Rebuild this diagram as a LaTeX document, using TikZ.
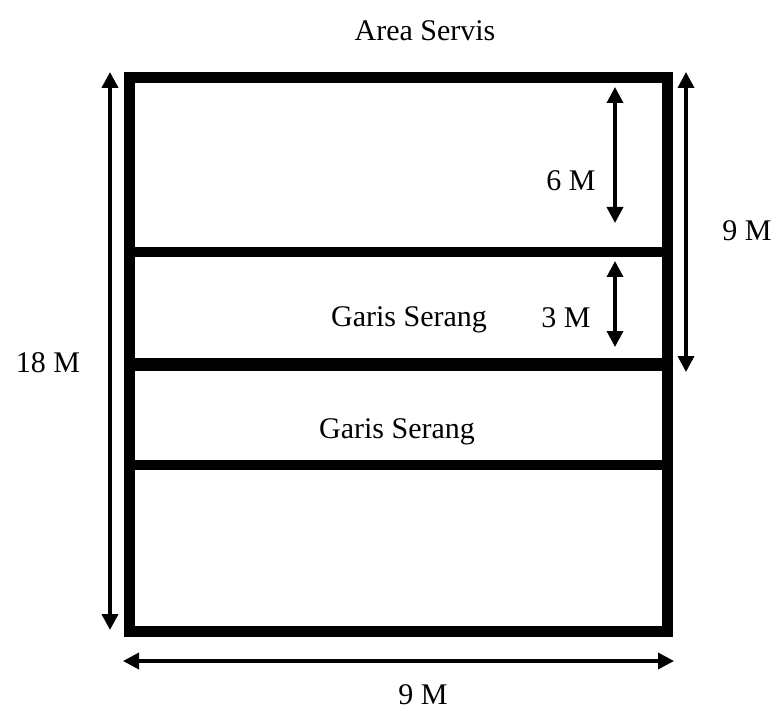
\documentclass[tikz,border=0pt]{standalone}
\usepackage{fontspec}
\setmainfont{Liberation Serif}
\usetikzlibrary{arrows.meta}
\begin{document}
\begin{tikzpicture}[x=1pt,y=-1pt,
  court/.style={line width=11pt,line join=miter},
  courtline/.style={line width=10pt},
  dimarrow/.style={line width=3.5pt,{Triangle[length=16pt,width=16pt]}-{Triangle[length=16pt,width=16pt]}},
  lbl/.style={font=\fontsize{30}{36}\selectfont,inner sep=0pt}]
\useasboundingbox (0,0) rectangle (776,711);
% court corners
\coordinate (tl) at (129,78);
\coordinate (tr) at (667,78);
\coordinate (bl) at (129,631);
\coordinate (br) at (667,631);
\draw[court] (tl) rectangle (br);
% inner lines
\coordinate (l1a) at (129,252); \coordinate (l1b) at (667,252);
\coordinate (l2a) at (129,364); \coordinate (l2b) at (667,364);
\coordinate (l3a) at (129,465); \coordinate (l3b) at (667,465);
\draw[courtline] (l1a) -- (l1b);
\draw[courtline,line width=13pt] (l2a) -- (l2b);
\draw[courtline] (l3a) -- (l3b);
% dimension arrows
\coordinate (a18t) at (110,72); \coordinate (a18b) at (110,630);
\draw[dimarrow,line width=4pt] (a18t) -- (a18b);
\coordinate (a9rt) at (686,72); \coordinate (a9rb) at (686,372);
\draw[dimarrow] (a9rt) -- (a9rb);
\coordinate (a6t) at (615,87); \coordinate (a6b) at (615,223);
\draw[dimarrow] (a6t) -- (a6b);
\coordinate (a3t) at (615,261); \coordinate (a3b) at (615,347);
\draw[dimarrow] (a3t) -- (a3b);
\coordinate (a9bl) at (123,661); \coordinate (a9br) at (674,661);
\draw[dimarrow] (a9bl) -- (a9br);
% labels
\node[lbl] (area) at (425,31) {Area Servis};
\node[lbl] (m18) at (48,363) {18 M};
\node[lbl] (m9r) at (747,231) {9 M};
\node[lbl] (m6) at (571,181) {6 M};
\node[lbl] (m3) at (566,318) {3 M};
\node[lbl] (gs1) at (409,320) {Garis Serang};
\node[lbl] (gs2) at (397,432) {Garis Serang};
\node[lbl] (m9b) at (423,695) {9 M};
\end{tikzpicture}
\end{document}
